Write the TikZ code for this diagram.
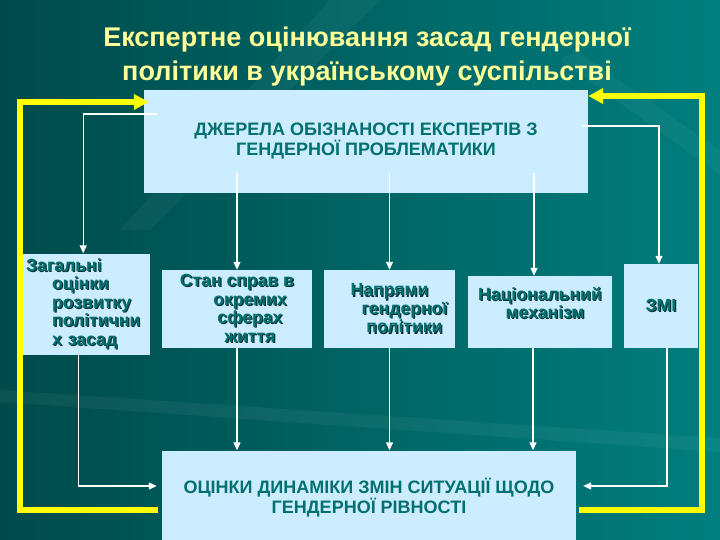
\documentclass[tikz,border=0pt]{standalone}
\usepackage{fontspec}
\setmainfont{Liberation Sans}
\usetikzlibrary{arrows.meta}
\definecolor{bgdark}{RGB}{0,74,74}
\definecolor{bglight}{RGB}{0,126,126}
\definecolor{boxfill}{RGB}{204,236,255}
\definecolor{boxtext}{RGB}{0,112,112}
\definecolor{txtshadow}{RGB}{12,52,52}
\definecolor{titleyellow}{RGB}{255,255,153}
\definecolor{loopyellow}{RGB}{255,255,0}
\newcommand{\shd}[1]{\makebox[0pt][l]{\kern1.2pt\raisebox{-1.2pt}{\textcolor{txtshadow}{#1}}}#1}
\tikzset{
  bigbox/.style={fill=boxfill,inner sep=0pt,text=boxtext,align=center,
    font=\fontsize{18}{20}\selectfont\bfseries},
  areabox/.style={fill=boxfill,inner sep=0pt,text=boxtext,align=center,
    font=\fontsize{17.6}{18.5}\selectfont\bfseries},
  flowarrow/.style={draw=white,line width=1.3pt,-{Triangle[length=8pt,width=7pt]}},
  loopline/.style={draw=loopyellow,line width=6pt,-{Triangle[length=15pt,width=15pt]}}
}

\begin{document}
\begin{tikzpicture}[x=1pt,y=-1pt]
  \useasboundingbox (0,0) rectangle (720,540);
  \shade[left color=bgdark,right color=bglight] (0,0) rectangle (720,540);
  \fill[white,opacity=0.05] (0,390) -- (720,438) -- (720,452) -- (0,402) -- cycle;
  \fill[white,opacity=0.04] (330,0) -- (380,0) -- (150,230) -- (120,230) -- cycle;
  \fill[white,opacity=0.04] (720,150) -- (720,175) -- (560,60) -- (575,50) -- cycle;

  %% Title
  \node[font=\fontsize{27}{34}\selectfont\bfseries,text=titleyellow,
        align=center,inner sep=0pt] (title) at (367,56.5)
        {Експертне оцінювання засад гендерної\\політики в українському суспільстві};

  %% Source and result boxes
  \node[bigbox,minimum width=444pt,minimum height=103pt]
        (sources) at (366,141.5)
        {ДЖЕРЕЛА ОБІЗНАНОСТІ ЕКСПЕРТІВ З\\ГЕНДЕРНОЇ ПРОБЛЕМАТИКИ};
  \node[bigbox,minimum width=414pt,minimum height=95pt]
        (dynamics) at (369,498)
        {ОЦІНКИ ДИНАМІКИ ЗМІН СИТУАЦІЇ ЩОДО\\ГЕНДЕРНОЇ РІВНОСТІ};

  %% Area boxes
  \node[areabox,anchor=west,align=left,inner xsep=4pt,text width=120pt,
        minimum height=101pt] (general) at (22,304)
        {\shd{Загальні}\\\hspace*{26pt}\shd{оцінки}\\\hspace*{26pt}\shd{розвитку}\\
         \hspace*{26pt}\shd{політични}\\\hspace*{26pt}\shd{х засад}};
  \node[areabox,minimum width=150pt,minimum height=78pt] (state) at (237,309)
        {\shd{Стан справ в}\\\hspace*{26pt}\shd{окремих}\\
         \hspace*{26pt}\shd{сферах}\\\hspace*{26pt}\shd{життя}};
  \node[areabox,minimum width=131pt,minimum height=78pt] (directions) at (389.5,309)
        {\shd{Напрями}\\\hspace*{30pt}\shd{гендерної}\\\hspace*{30pt}\shd{політики}};
  \node[areabox,minimum width=144pt,minimum height=72pt] (mechanism) at (540,312)
        {\shd{Національний}\\\hspace*{10pt}\shd{механізм}\\\mbox{}};
  \node[areabox,minimum width=74pt,minimum height=84pt] (zmi) at (661,306)
        {\shd{ЗМІ}};
  \coordinate (mechin) at ([xshift=-6pt]mechanism.north);
  \coordinate (mechout) at ([xshift=-7pt]mechanism.south);

  %% Feedback loop
  \draw[loopline] ([shift={(-4pt,-12pt)}]dynamics.west) -| (19.5,102)
        -- ([shift={(5pt,39.5pt)}]sources.west);
  \draw[loopline] ([shift={(3pt,-12pt)}]dynamics.east) -| (702,96)
        -- ([yshift=45.5pt]sources.east);

  %% Flows from the sources
  \draw[flowarrow] ([shift={(13pt,27.5pt)}]sources.west) -| ([xshift=-3pt]general.north);
  \draw[flowarrow] ([yshift=20pt]sources.south -| state.north) -- (state.north);
  \draw[flowarrow] ([yshift=20pt]sources.south -| directions.north) -- (directions.north);
  \draw[flowarrow] ([yshift=20pt]sources.south -| mechin) -- (mechin);
  \draw[flowarrow] ([shift={(-6pt,15.5pt)}]sources.east) -| ([xshift=-2pt]zmi.north);

  %% Flows to the assessment
  \draw[flowarrow] ([xshift=-8pt]general.south) |- ([shift={(-5pt,12pt)}]dynamics.west);
  \draw[flowarrow] (state.south) -- (state.south |- dynamics.north);
  \draw[flowarrow] (directions.south) -- (directions.south |- dynamics.north);
  \draw[flowarrow] (mechout) -- (mechout |- dynamics.north);
  \draw[flowarrow] ([xshift=6pt]zmi.south) |- ([shift={(7pt,12pt)}]dynamics.east);
\end{tikzpicture}
\end{document}
